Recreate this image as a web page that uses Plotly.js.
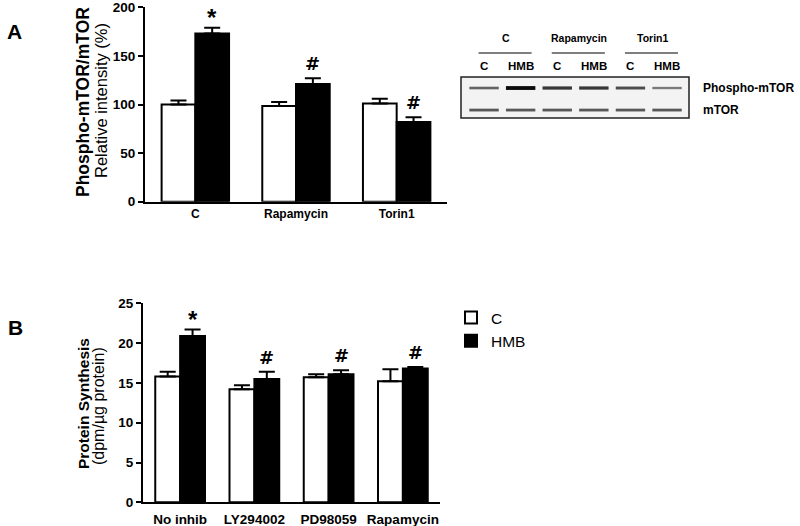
<!DOCTYPE html>
<html>
<head>
<meta charset="utf-8">
<script src="https://cdn.plot.ly/plotly-3.0.1.min.js"></script>
<style>body{margin:0;} #chart{width:800px;height:526px;}</style>
</head>
<body>
<div id="chart"></div>
<script>
// Panel A - phospho-mTOR / mTOR ratio
var treatmentsA = ["C", "Rapamycin", "Torin1"];
var controlA = [100, 98.5, 101];
var controlErrA = [4, 4, 5];
var hmbA = [173, 121, 82];
var hmbErrA = [6, 6, 5];
var sigA = ["*", "#", "#"];

// Panel B - protein synthesis
var inhibitorsB = ["No inhib", "LY294002", "PD98059", "Rapamycin"];
var controlB = [15.8, 14.2, 15.7, 15.2];
var controlErrB = [0.6, 0.5, 0.4, 1.5];
var hmbB = [20.9, 15.5, 16.1, 16.8];
var hmbErrB = [0.8, 0.9, 0.5, 0.2];
var sigB = ["*", "#", "#", "#"];

// Western blot
var blotGroups = ["C", "Rapamycin", "Torin1"];
var blotLanes = ["C", "HMB", "C", "HMB", "C", "HMB"];
var phosphoBand = [0.55, 0.95, 0.75, 0.75, 0.65, 0.45];
var totalBand = [0.6, 0.6, 0.6, 0.6, 0.6, 0.6];
var blotRows = ["mTOR", "Phospho-mTOR"];

var FONT = "Liberation Sans, Arial, sans-serif";
var zeros = n => new Array(n).fill(0);

function bars(x, y, err, fill, name, xa, ya, legend) {
    return {
        type: "bar", x: x, y: y, name: name,
        xaxis: xa, yaxis: ya, showlegend: legend,
        marker: {color: fill, line: {color: "black", width: 2}},
        error_y: {type: "data", symmetric: false, array: err, arrayminus: zeros(err.length),
                  color: "black", thickness: 2, width: 8},
        hoverinfo: "skip"
    };
}

// blot bands: one marker per lane and row
var laneIdx = blotLanes.map((l, i) => i + 1);
var bandX = laneIdx.concat(laneIdx);
var bandY = laneIdx.map(() => 1).concat(laneIdx.map(() => 0));
var bandI = phosphoBand.concat(totalBand);
var bandTrace = {
    type: "scatter", mode: "markers", x: bandX, y: bandY,
    xaxis: "x3", yaxis: "y3", showlegend: false, hoverinfo: "skip",
    marker: {
        symbol: "line-ew", size: 21,
        line: {
            width: bandI.map(v => 1 + 3 * v),
            color: bandI.map(v => { var g = Math.round(220 * (1 - v)); return "rgb(" + g + "," + g + "," + g + ")"; })
        }
    }
};

var data = [
    bars(treatmentsA, controlA, controlErrA, "white", "C", "x", "y", false),
    bars(treatmentsA, hmbA, hmbErrA, "black", "HMB", "x", "y", false),
    bars(inhibitorsB, controlB, controlErrB, "white", "C", "x2", "y2", true),
    bars(inhibitorsB, hmbB, hmbErrB, "black", "HMB", "x2", "y2", true),
    bandTrace
];

var annotations = [];
function txt(text, x, y, size, bold, extra) {
    var a = Object.assign({
        text: text, x: x, y: y, xref: "paper", yref: "paper", showarrow: false,
        xanchor: "center", yanchor: "middle",
        font: {family: FONT, size: size, color: "black", weight: bold ? 700 : 400}
    }, extra || {});
    annotations.push(a);
}

// panel letters
txt("A", 14 / 800, 1 - 32 / 526, 21, true);
txt("B", 15 / 800, 1 - 327 / 526, 21, true);

// y titles
txt("Phospho-mTOR/mTOR", 83 / 800, 1 - 102 / 526, 17.5, true, {textangle: -90});
txt("Relative intensity (%)", 101 / 800, 1 - 101 / 526, 16.5, false, {textangle: -90});
txt("Protein Synthesis", 83 / 800, 1 - 404 / 526, 15.5, true, {textangle: -90});
txt("(dpm/µg protein)", 98 / 800, 1 - 406 / 526, 16, false, {textangle: -90});

// significance marks above HMB bars
var hmbOffset = (1 - 0.33) / 4;
function sig(s, i, top, xa, ya) {
    var star = s == "*";
    txt(s, i + hmbOffset, top, star ? 24 : 19, true,
        {xref: xa, yref: ya, yanchor: "bottom", yshift: star ? -5 : 2,
         font: {family: star ? FONT : "DejaVu Sans", size: star ? 24 : 18, color: "black", weight: 700}});
}
sigA.forEach((s, i) => sig(s, i, hmbA[i] + hmbErrA[i], "x", "y"));
sigB.forEach((s, i) => sig(s, i, hmbB[i] + hmbErrB[i], "x2", "y2"));

// blot frame, group lines and labels
var shapes = [{
    type: "rect", xref: "x3 domain", yref: "y3 domain", x0: 0, x1: 1, y0: 0, y1: 1,
    fillcolor: "#f3f3f3", line: {color: "#222", width: 1.5}, layer: "below"
}];
blotGroups.forEach((g, i) => {
    var a = 2 * i + 1, b = 2 * i + 2;
    shapes.push({type: "line", xref: "x3", yref: "paper", x0: a - 0.15, x1: b + 0.3,
                 y0: 1 - 53 / 526, y1: 1 - 53 / 526, line: {color: "#555", width: 1.5}});
    txt(g, (a + b) / 2 + 0.1, 1 - 38 / 526, 10.5, true, {xref: "x3"});
});
blotLanes.forEach((l, i) => txt(l, i + 1, 1 - 66 / 526, 11.5, true, {xref: "x3"}));
blotRows.forEach((r, i) => txt(r, 701 / 800, i, 12, true, {yref: "y3", xanchor: "left"}));

var yCommon = {
    showline: true, linewidth: 2, linecolor: "black", ticks: "outside", ticklen: 5,
    tickwidth: 2, tickcolor: "black", showgrid: false, zeroline: false,
    tickfont: {family: FONT, size: 13.5, color: "black", weight: 700}
};
var xCommon = {
    type: "category", showline: true, linewidth: 2, linecolor: "black", ticks: "",
    showgrid: false, zeroline: false
};

var layout = {
    width: 800, height: 526,
    margin: {l: 0, r: 0, t: 0, b: 0},
    paper_bgcolor: "white", plot_bgcolor: "white",
    barmode: "group", bargap: 0.33, bargroupgap: 0,
    font: {family: FONT, color: "black"},
    xaxis: Object.assign({}, xCommon, {domain: [145 / 800, 447 / 800], anchor: "y", range: [-0.5, 2.5],
        tickfont: {family: FONT, size: 12, color: "black", weight: 700}}),
    yaxis: Object.assign({}, yCommon, {domain: [1 - 201.7 / 526, 1 - 7.3 / 526], anchor: "x",
        range: [0, 200], dtick: 50}),
    xaxis2: Object.assign({}, xCommon, {domain: [143 / 800, 440 / 800], anchor: "y2", range: [-0.5, 3.5],
        ticklabelstandoff: 3,
        tickfont: {family: FONT, size: 13.5, color: "black", weight: 700}}),
    yaxis2: Object.assign({}, yCommon, {domain: [1 - 502.3 / 526, 1 - 303.3 / 526], anchor: "x2",
        range: [0, 25], dtick: 5}),
    xaxis3: {domain: [461 / 800, 689 / 800], anchor: "y3", range: [0.37, 6.6], visible: false},
    yaxis3: {domain: [1 - 118 / 526, 1 - 77 / 526], anchor: "x3", range: [-0.36, 1.5], visible: false},
    legend: {x: 451 / 800, y: 1 - 301 / 526, xanchor: "left", yanchor: "top", tracegroupgap: 0,
             font: {family: FONT, size: 15.5, color: "black"}, bgcolor: "rgba(0,0,0,0)"},
    annotations: annotations,
    shapes: shapes
};

Plotly.newPlot("chart", data, layout, {staticPlot: true});
</script>
</body>
</html>
